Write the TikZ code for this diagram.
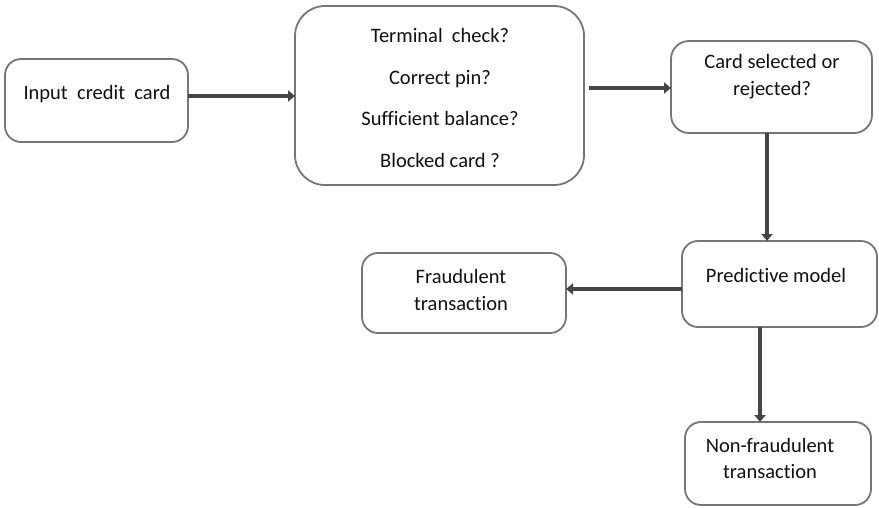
\documentclass[tikz,border=0pt]{standalone}
\usepackage{fontspec}
\setmainfont{Carlito}[Ligatures={NoCommon}]
\usetikzlibrary{arrows.meta}
\definecolor{boxline}{HTML}{767676}
\definecolor{flow}{HTML}{454545}
\definecolor{ink}{HTML}{111111}
\begin{document}
\begin{tikzpicture}[x=1pt,y=-1pt,
  box/.style={draw=boxline,line width=1.8pt,rectangle,rounded corners=#1,
    inner sep=0pt,outer sep=0pt,fill=white},
  box/.default=16pt,
  lbl/.style={anchor=base,inner sep=0pt,text=ink,
    font=\fontsize{20.5}{25}\selectfont},
  flowarrow/.style={draw=flow,line width=4.8pt,
    -{Triangle[length=7pt,width=11pt]}}]
\useasboundingbox (0,0) rectangle (879,507);
\fill[white] (0,0) rectangle (879,507);

% boxes
\node[box,minimum width=183pt,minimum height=83pt] (input) at (96.5,100.5) {};
\node[box=30pt,minimum width=289pt,minimum height=179pt] (checks) at (439.5,95.5) {};
\node[box=18pt,minimum width=201pt,minimum height=92pt] (card) at (771.5,87) {};
\node[box,minimum width=195pt,minimum height=86pt] (model) at (779.5,284) {};
\node[box,minimum width=204pt,minimum height=80pt] (fraud) at (464,293) {};
\node[box,minimum width=186pt,minimum height=83pt] (legit) at (778,463.5) {};

% labels
\node[lbl] (tinput) at (97,99) {Input\ \ credit\ \ card};
\node[lbl] (tc1) at (440,42) {Terminal\ \ check?};
\node[lbl] (tc2) at (440,84) {Correct pin?};
\node[lbl] (tc3) at (440,125) {Sufficient balance?};
\node[lbl] (tc4) at (440,167) {Blocked card ?};
\node[lbl] (tcard1) at (772,68) {Card selected or};
\node[lbl] (tcard2) at (772,95) {rejected?};
\node[lbl] (tmodel) at (776,282) {Predictive model};
\node[lbl] (tfraud1) at (461,283) {Fraudulent};
\node[lbl] (tfraud2) at (461,310) {transaction};
\node[lbl] (tlegit1) at (770,452) {Non-fraudulent};
\node[lbl] (tlegit2) at (770,478) {transaction};

% connectors
\draw[flowarrow] ([yshift=4.5pt]input.east) -- ([yshift=4.5pt]input.east -| checks.west);
\draw[flowarrow,shorten <=5pt] ([yshift=7.5pt]checks.east) -- ([yshift=7.5pt]checks.east -| card.west);
\draw[flowarrow] ([xshift=-4.5pt]card.south) -- ([xshift=-4.5pt]card.south |- model.north);
\draw[flowarrow] ([yshift=-5pt]model.west) -- ([yshift=-5pt]model.west -| fraud.east);
\draw[flowarrow] ([xshift=-19.5pt]model.south) -- ([xshift=-19.5pt]model.south |- legit.north);
\end{tikzpicture}
\end{document}
